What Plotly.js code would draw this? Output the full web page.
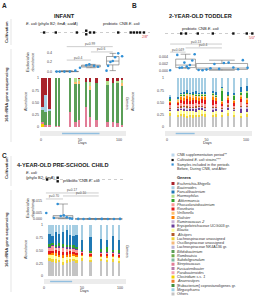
<!DOCTYPE html>
<html>
<head>
<meta charset="utf-8">
<script src="https://cdn.plot.ly/plotly-3.0.1.min.js"></script>
<style>
  html, body { margin: 0; padding: 0; background: #fff; }
  #chart { width: 255px; height: 300px; }
</style>
</head>
<body>
<div id="chart"></div>
<script>
// ---------- genus palette (legend order) ----------
const genusNames = [
  "Escherichia-Shigella", "Bacteroides", "Faecalibacterium", "Haemophilus", "Akkermansia",
  "Phascolarctobacterium", "Roseburia", "Veillonella", "Dialister", "Ruminococcus 2",
  "Erysipelotrichaceae UCG003 gr.", "Blautia", "Alistipes", "Lachnospiraceae unassigned",
  "Oscillospiraceae unassigned", "Lachnospiraceae NK4A136 gr.", "Bifidobacterium", "Romboutsia",
  "Subdoligranulum", "Streptococcus", "Fusicatenibacter", "Parabacteroides", "Clostridium s.s. 1",
  "Anaerostipes", "[Eubacterium] coprostanoligenes gr.", "Megasphaera", "Others"
];
const genusColors = [
  "#a8232b", "#a6cee3", "#1f78b4", "#b2df8a", "#33a02c",
  "#fb9a99", "#e31a1c", "#fdbf6f", "#ff7f00", "#cab2d6",
  "#6a3d9a", "#ffff99", "#b15928", "#f0d43a",
  "#f4b97a", "#b9b3d6", "#5a9e57", "#6cae4a",
  "#7fb9a0", "#e27d97", "#b57aa8", "#f2a2b4", "#f5d000",
  "#ec7d2e", "#3f8f3f", "#9fd0e6", "#c4c4c4"
];

// ---------- A: infant ----------
const infantDays = [2, 6, 11, 19, 23, 37, 44, 49, 58, 63, 71, 85, 92, 98, 104];
const infantGenera = ["Clostridium s.s. 1", "Streptococcus", "Bifidobacterium", "Bacteroides",
                      "Veillonella", "Haemophilus", "Escherichia-Shigella"];
const infantAbundance = [
  [0.06, 0, 0, 0, 0, 0, 0, 0, 0, 0, 0, 0, 0, 0, 0],
  [0.04, 0.05, 0.04, 0.02, 0.03, 0.30, 0.10, 0.15, 0.40, 0.20, 0.15, 0.10, 0.10, 0.08, 0.05],
  [0.25, 0.25, 0.28, 0.98, 0.97, 0.70, 0.78, 0.73, 0.52, 0.55, 0.75, 0.75, 0.80, 0.82, 0.78],
  [0.05, 0.35, 0.05, 0, 0, 0, 0, 0, 0, 0, 0, 0, 0, 0, 0],
  [0, 0, 0, 0, 0, 0, 0.04, 0.05, 0, 0.08, 0, 0, 0, 0, 0.07],
  [0, 0, 0, 0, 0, 0, 0.08, 0.04, 0, 0.08, 0, 0.08, 0, 0.04, 0.05],
  [0.60, 0.35, 0.63, 0, 0, 0, 0, 0.03, 0.08, 0.09, 0.10, 0.07, 0.10, 0.06, 0.05]
];
const infantCultDays = [4, 19, 46, 58, 58, 63, 68, 99, 115, 119, 123, 127, 132];
const infantPeriod = [27, 75];
const infantGroups = [[18, 48], [52, 76], [84, 100]];
const infantSampleDays = [[20, 24, 30, 37, 44], [50, 58, 62, 68, 73], [84, 86, 89, 92, 95, 99, 104]];
const infantEscherichia = [[0, 0, 0, 0, 0.02], [0.08, 0.13, 0.15, 0.12, 0.10], [0.02, 0.12, 0.20, 0.22, 0.30, 0.38, 0.32]];
const infantPvalues = ["p=0.4", "p=0.6", "p=0.99"];

// ---------- B: 2-year-old toddler ----------
const toddlerDays = [4, 14, 18, 21.5, 25, 29, 33, 37, 40.5, 44, 48, 58, 62, 70, 77, 85, 94, 101];
const toddlerGenera = ["Others", "Lachnospiraceae unassigned", "Blautia", "Erysipelotrichaceae UCG003 gr.",
  "Ruminococcus 2", "Alistipes", "Phascolarctobacterium", "Roseburia", "Dialister", "Veillonella",
  "Akkermansia", "Haemophilus", "Faecalibacterium", "Bacteroides"];
const toddlerAbundance = [
  [.22, .20, .22, .20, .18, .20, .19, .21, .20, .22, .20, .20, .21, .20, .22, .20, .18, .20],
  [.06, .05, .04, .06, .05, .05, .06, .04, .05, .05, .06, .05, .05, .05, .06, .05, .05, .06],
  [.04, .07, .08, .06, .09, .07, .08, .06, .10, .07, .06, .06, .07, .05, .06, .07, .06, .05],
  [.03, .04, .03, .05, .03, .04, .03, .05, .03, .04, .03, .04, .03, .04, .04, .03, .07, .06],
  [.02, .03, .02, .03, .04, .02, .03, .03, .02, .03, .03, .03, .03, .02, .03, .02, .04, .03],
  [.02, .02, .03, .02, .03, .02, .02, .03, .02, .02, .03, .02, .02, .02, .03, .02, .03, .02],
  [.05, .04, .08, .04, .05, .06, .05, .07, .05, .06, .05, .05, .06, .04, .04, .04, .08, .04],
  [.04, .03, .06, .08, .10, .07, .09, .06, .07, .08, .10, .10, .07, .05, .08, .05, .06, .04],
  [.03, .04, .05, .06, .07, .08, .05, .06, .05, .04, .05, .06, .05, .04, .04, .05, .05, .06],
  [.02, .03, .03, .04, .03, .04, .05, .03, .04, .03, .03, .04, .03, .03, .03, .03, .04, .04],
  [.04, .01, .02, .02, .02, .01, .02, .02, .03, .02, .02, .02, .02, .20, .02, .08, .03, .10],
  [.01, .01, .01, .01, .01, .01, .01, .02, .01, .01, .02, .02, .02, .06, .01, .02, .02, .03],
  [.04, .04, .03, .04, .05, .03, .04, .05, .03, .04, .04, .04, .05, .02, .05, .04, .10, .10],
  [.03, .39, .30, .29, .25, .30, .28, .27, .30, .29, .28, .27, .29, .18, .29, .30, .19, .17]
];
const toddlerCultDays = [18, 24, 39, 58, 84, 101, 108];
const toddlerPeriod = [11, 35];
const toddlerGroups = [[2.5, 5.5], [11, 36], [37, 102]];
const toddlerSampleDays = [[4], [13, 16, 19, 22, 25, 27, 29, 32, 35], [40, 45, 50, 55, 60, 66, 72, 78, 84, 90, 96, 102]];
const toddlerEscherichia = [
  [0.0002],
  [0.0046, 0.0009, 0.0010, 0.0024, 0.0013, 0.0008, 0.0017, 0.0030, 0.0048],
  [0.0003, 0.0002, 0.0004, 0.0008, 0.0020, 0.0006, 0.0023, 0.0024, 0.0010, 0.0005, 0.0031, 0.0009]
];
const toddlerPvalues = ["p=0.049", "p=0.4", "p=0.13"];

// ---------- C: 4-year-old pre-school child ----------
const childDays = [7, 11, 16, 20, 25, 30, 34, 39, 43, 50, 61, 75, 83, 91, 99];
const childGenera = ["Others", "Lachnospiraceae unassigned", "Blautia", "Dialister", "Roseburia",
  "Phascolarctobacterium", "Erysipelotrichaceae UCG003 gr.", "Akkermansia", "Faecalibacterium", "Bacteroides"];
const childAbundance = [
  [.30, .28, .25, .27, .22, .25, .28, .30, .26, .30, .28, .30, .27, .28, .26],
  [.05, .06, .08, .05, .06, .07, .05, .04, .06, .05, .04, .04, .05, .05, .04],
  [.06, .08, .07, .06, .08, .06, .05, .06, .05, .04, .05, .03, .04, .04, .05],
  [.03, .04, .05, .04, .05, .04, .06, .03, .04, .03, .03, .02, .03, .03, .03],
  [.05, .04, .06, .08, .07, .06, .05, .04, .05, .03, .03, .04, .04, .03, .04],
  [.06, .08, .04, .05, .07, .05, .04, .06, .05, .02, .02, .02, .03, .02, .02],
  [.02, .03, .02, .03, .02, .04, .03, .02, .02, .02, .01, .02, .02, .02, .02],
  [.05, .03, .04, .06, .05, .03, .04, .05, .03, .02, .03, .06, .08, .04, .05],
  [.20, .15, .25, .18, .24, .30, .20, .18, .25, .20, .28, .20, .14, .27, .20],
  [.18, .21, .14, .18, .14, .10, .20, .22, .19, .29, .23, .27, .30, .22, .29]
];
const childCultDays = [4, 18, 18];
const childPeriod = [8, 37];
const childGroups = [[1, 4], [12, 38], [41, 103]];
const childSampleDays = [[3], [13, 18, 22, 26, 30, 34, 37], [45, 52, 60, 68, 76, 84, 92, 100]];
const childEscherichia = [[0.005], [0.0008, 0.0125, 0.0025, 0.0030, 0.0015, 0.0005, 0.0002],
                          [0.0001, 0, 0.0002, 0, 0.0001, 0, 0, 0.0001]];
const childPvalues = ["p=0.70", "p=0.10", "p=0.17"];

// ---------- layout helpers (pixel -> paper) ----------
const W = 255, H = 300;
const FONT = "Liberation Sans, Arial, sans-serif";
const colorOf = name => genusColors[genusNames.indexOf(name)];
const traces = [], annotations = [], shapes = [], layout = {};

function xdom(a, b) { return [a / W, b / W]; }
function ydom(a, b) { return [1 - b / H, 1 - a / H]; }
function hiddenAxis(extra) {
  return Object.assign({ showgrid: false, zeroline: false, showline: false, showticklabels: false,
                         ticks: "", fixedrange: true }, extra);
}
function dayAxis(px0, px1, day0, k, extra) {
  return hiddenAxis(Object.assign({ domain: xdom(px0, px1), range: [(px0 - day0) / k, (px1 - day0) / k] }, extra));
}
function text(t, px, py, o) {
  annotations.push(Object.assign({ text: t, x: px / W, y: 1 - py / H, xref: "paper", yref: "paper",
    showarrow: false, xanchor: "center", yanchor: "middle", borderpad: 0,
    font: { family: FONT, size: 4, color: "#333" } }, o || {}));
}
function pline(x0, y0, x1, y1, color, width, dash) {
  shapes.push({ type: "line", xref: "paper", yref: "paper", x0: x0 / W, x1: x1 / W,
    y0: 1 - y0 / H, y1: 1 - y1 / H, line: { color: color, width: width, dash: dash || "solid" } });
}

// one panel: cultivation row, Escherichia box plot, stacked genera, day band
function panel(p) {
  const [xc, xb, xs, xd] = p.ids.map(i => "x" + i);
  const [yc, yb, ys, yd] = p.ids.map(i => "y" + i);
  const key = s => s.replace("x", "xaxis").replace("y", "yaxis");

  // cultivation row
  layout[key(xc)] = dayAxis(p.cult.x[0], p.cult.x[1], p.day0, p.k, { anchor: yc });
  layout[key(yc)] = hiddenAxis({ domain: ydom(p.cult.y[0], p.cult.y[1]), range: [0, 1], anchor: xc });
  shapes.push({ type: "line", xref: xc + " domain", yref: yc + " domain", x0: 0, x1: 1, y0: 0.5, y1: 0.5,
                line: { color: "#9a9a9a", width: 0.5, dash: "dot" }, layer: "below" });
  const counts = {}, seen = {};
  p.cultDays.forEach(d => counts[d] = (counts[d] || 0) + 1);
  const cy = p.cultDays.map(d => { const i = seen[d] = (seen[d] || 0) + 1;
                                   return 0.5 + (i - 1 - (counts[d] - 1) / 2) * 0.4; });
  traces.push({ type: "scatter", mode: "markers", x: p.cultDays, y: cy, xaxis: xc, yaxis: yc,
    marker: { symbol: "square", size: 2.4, color: "#111" }, hoverinfo: "skip" });

  // Escherichia abundance box plots
  layout[key(xb)] = dayAxis(p.box.x[0], p.box.x[1], p.day0, p.k, { anchor: yb });
  layout[key(yb)] = hiddenAxis({ domain: ydom(p.box.y[0], p.box.y[1]), range: p.box.range, anchor: xb,
    showticklabels: true, tickvals: p.box.ticks, ticktext: p.box.labels,
    tickfont: { family: FONT, size: 3.6, color: "#444" } });
  const centers = p.groups.map(g => (g[0] + g[1]) / 2);
  p.groups.forEach((g, i) => {
    if (p.esch[i].length > 1) {
      traces.push({ type: "box", y: p.esch[i], x0: centers[i], width: g[1] - g[0], xaxis: xb, yaxis: yb,
        boxpoints: false, line: { color: "#6b6b6b", width: 0.6 }, fillcolor: "rgba(255,255,255,0)",
        whiskerwidth: 0.5, hoverinfo: "skip" });
    }
    traces.push({ type: "scatter", mode: "markers", x: p.sampleDays[i], y: p.esch[i], xaxis: xb, yaxis: yb,
      marker: { size: 2.6, color: "#2f8fd6" }, hoverinfo: "skip" });
  });
  [[0, 1], [1, 2], [0, 2]].forEach(([a, b], j) => {
    const lvl = p.box.levels[j];
    shapes.push({ type: "line", xref: xb, yref: yb, x0: centers[a], x1: centers[b], y0: lvl, y1: lvl,
                  line: { color: "#9a9a9a", width: 0.5 } });
    annotations.push({ text: p.pvals[j], xref: xb, yref: yb, x: (centers[a] + centers[b]) / 2, y: lvl,
      yanchor: "bottom", xanchor: "center", showarrow: false, borderpad: 0, yshift: -0.5,
      font: { family: FONT, size: 3.3, color: "#555" } });
  });

  // stacked genera
  layout[key(xs)] = dayAxis(p.bars.x[0], p.bars.x[1], p.day0, p.k, { anchor: ys });
  layout[key(ys)] = hiddenAxis({ domain: ydom(p.bars.y[0], p.bars.y[1]), range: [0, 1], anchor: xs,
    showticklabels: true, tickvals: [0, 0.25, 0.5, 0.75, 1], ticktext: ["0", "0.25", "0.50", "0.75", "1"],
    tickfont: { family: FONT, size: 3.6, color: "#444" } });
  p.genera.forEach((g, i) => {
    traces.push({ type: "bar", x: p.days, y: p.abund[i], width: p.barWidth, xaxis: xs, yaxis: ys,
      marker: { color: colorOf(g), line: { width: 0 } }, hoverinfo: "skip" });
  });

  // day band with supplementation period
  layout[key(xd)] = dayAxis(p.bars.x[0], p.bars.x[1], p.day0, p.k, { anchor: yd,
    showticklabels: true, tickvals: [0, 50, 100], tickfont: { family: FONT, size: 3.6, color: "#444" } });
  layout[key(yd)] = hiddenAxis({ domain: ydom(p.band[0], p.band[1]), range: [0, 1], anchor: xd });
  shapes.push({ type: "rect", xref: xd + " domain", yref: yd + " domain", x0: 0, x1: 1, y0: 0, y1: 1,
                fillcolor: "#ececec", line: { width: 0 }, layer: "below" });
  traces.push({ type: "scatter", mode: "lines", x: p.period, y: [0.5, 0.5], xaxis: xd, yaxis: yd,
    line: { color: "#92bfe0", width: 1.4 }, hoverinfo: "skip" });
}

panel({ ids: [1, 2, 3, 4], day0: 41, k: 0.78,
  cult: { x: [40, 150], y: [28, 37] },
  box: { x: [53, 126], y: [42, 74], range: [-0.05, 0.617], ticks: [0, 0.2, 0.4], labels: ["0.0", "0.2", "0.4"],
         levels: [0.24, 0.41, 0.52] },
  bars: { x: [40, 126], y: [78, 127] }, band: [131, 136], barWidth: 3.2,
  days: infantDays, genera: infantGenera, abund: infantAbundance, cultDays: infantCultDays,
  period: infantPeriod, groups: infantGroups, sampleDays: infantSampleDays, esch: infantEscherichia,
  pvals: infantPvalues });

panel({ ids: [5, 6, 7, 8], day0: 167, k: 0.79,
  cult: { x: [165, 255], y: [29, 38] },
  box: { x: [169, 253], y: [40, 73], range: [-0.00057, 0.00886], ticks: [0, 0.002, 0.004],
         labels: ["0.000", "0.002", "0.004"], levels: [0.0054, 0.0066, 0.0077] },
  bars: { x: [165, 252], y: [78, 127] }, band: [131, 136], barWidth: 2.9,
  days: toddlerDays, genera: toddlerGenera, abund: toddlerAbundance, cultDays: toddlerCultDays,
  period: toddlerPeriod, groups: toddlerGroups, sampleDays: toddlerSampleDays, esch: toddlerEscherichia,
  pvals: toddlerPvalues });

panel({ ids: [9, 10, 11, 12], day0: 44, k: 0.76,
  cult: { x: [42, 126], y: [175, 184] },
  box: { x: [43, 126], y: [189, 222], range: [-0.0025, 0.025], ticks: [0, 0.005, 0.015],
         labels: ["0.000", "0.005", "0.015"], levels: [0.0167, 0.0192, 0.0217] },
  bars: { x: [44, 126], y: [225, 276] }, band: [279, 284], barWidth: 3.3,
  days: childDays, genera: childGenera, abund: childAbundance, cultDays: childCultDays,
  period: childPeriod, groups: childGroups, sampleDays: childSampleDays, esch: childEscherichia,
  pvals: childPvalues });

// ---------- panel text ----------
const bold = (s, size) => ({ font: { family: FONT, size: size, color: "#222" } });
text("<b>A</b>", 4, 5, bold(0, 6.5));
text("<b>B</b>", 134, 5, bold(0, 6.5));
text("<b>C</b>", 4, 155, bold(0, 6.5));
text("<b>INFANT</b>", 64, 16, bold(0, 5.6));
text("<b>2-YEAR-OLD TODDLER</b>", 200, 16, bold(0, 5.6));
text("<b>4-YEAR-OLD PRE-SCHOOL CHILD</b>", 63, 165, bold(0, 5.6));

const side = { textangle: -90, font: { family: FONT, size: 4.2, color: "#333" } };
text("<b>Cultivation</b>", 6, 32, side);
text("<b>16S rRNA gene sequencing</b>", 6, 95, side);
text("<b>Cultivation</b>", 6, 168, side);
text("<b>16S rRNA gene sequencing</b>", 6, 240, side);
pline(11, 19, 11, 45, "#c8c8c8", 0.5);
pline(11, 49, 11, 142, "#c8c8c8", 0.5);
pline(11, 156, 11, 186, "#c8c8c8", 0.5);
pline(11, 190, 11, 292, "#c8c8c8", 0.5);

const axisLab = { textangle: -90, font: { family: FONT, size: 3.8, color: "#333" } };
text("<i>Escherichia</i><br>abundance", 30, 62, axisLab);
text("<i>Escherichia</i><br>abundance", 30, 208, axisLab);
text("Abundance", 26, 102, axisLab);
text("Abundance", 133, 102, axisLab);
text("Abundance", 26, 250, axisLab);
text("Genera", 127, 104, { textangle: 90, font: { family: FONT, size: 3.8, color: "#333" } });
text("Genera", 127, 252, { textangle: 90, font: { family: FONT, size: 3.8, color: "#333" } });
text("Days", 82, 143, { font: { family: FONT, size: 3.8, color: "#333" } });
text("Days", 207, 143, { font: { family: FONT, size: 3.8, color: "#333" } });
text("Days", 84, 291, { font: { family: FONT, size: 3.8, color: "#333" } });

const small = { xanchor: "left", font: { family: FONT, size: 4, color: "#222" } };
text("<i>E. coli</i> (phylo B2; <i>fimA</i>; <i>cadA</i>)", 25, 24, small);
text("probiotic CNB <i>E. coli</i>", 102, 24, small);
text("probiotic CNB <i>E. coli</i>", 181, 28, small);
text("<i>E. coli</i>", 25, 172, small);
text("(phylo B2; <i>fimA</i>)", 25, 177, small);
text("probiotic CNB <i>E. coli</i>", 62, 180, small);
text("2/8*", 141, 37, { xanchor: "left", font: { family: FONT, size: 3.5, color: "#d23c3c" } });
text("5/0*", 248, 38, { xanchor: "left", font: { family: FONT, size: 3.5, color: "#d23c3c" } });

// ---------- legend ----------
const legFont = { xanchor: "left", font: { family: FONT, size: 3.7, color: "#333" } };
function swatch(py, color, size) {
  const s = size || 3;
  shapes.push({ type: "rect", xref: "paper", yref: "paper", x0: 171.5 / W, x1: (171.5 + s) / W,
    y0: 1 - (py + s / 2) / H, y1: 1 - (py - s / 2) / H, fillcolor: color, line: { width: 0 } });
}
swatch(155, "#bcd7ec"); text("CNB supplementation period**", 176, 155, legFont);
swatch(160, "#111", 2.2); text("Cultivated <i>E. coli</i> strains***", 176, 160, legFont);
swatch(164.5, "#2f8fd6", 2.2); text("Samples included in the periods", 176, 164.5, legFont);
text("Before, During CNB, and After", 176, 168.8, legFont);
text("<b>Genera</b>", 176, 177.5, { xanchor: "left", font: { family: FONT, size: 4, color: "#222" } });
genusNames.forEach((g, i) => {
  const py = 183.5 + i * 4.25;
  swatch(py, genusColors[i]);
  const label = g === "Others" || /unassigned|gr\.$/.test(g) ? g : "<i>" + g + "</i>";
  text(label, 176, py, legFont);
});

Object.assign(layout, {
  width: W, height: H, margin: { l: 0, r: 0, t: 0, b: 0, pad: 0 },
  paper_bgcolor: "#fff", plot_bgcolor: "rgba(0,0,0,0)",
  barmode: "stack", bargap: 0, boxmode: "overlay", showlegend: false, hovermode: false,
  font: { family: FONT, size: 4, color: "#333" },
  annotations: annotations, shapes: shapes
});

Plotly.newPlot("chart", traces, layout, { staticPlot: true, displayModeBar: false });
</script>
</body>
</html>
